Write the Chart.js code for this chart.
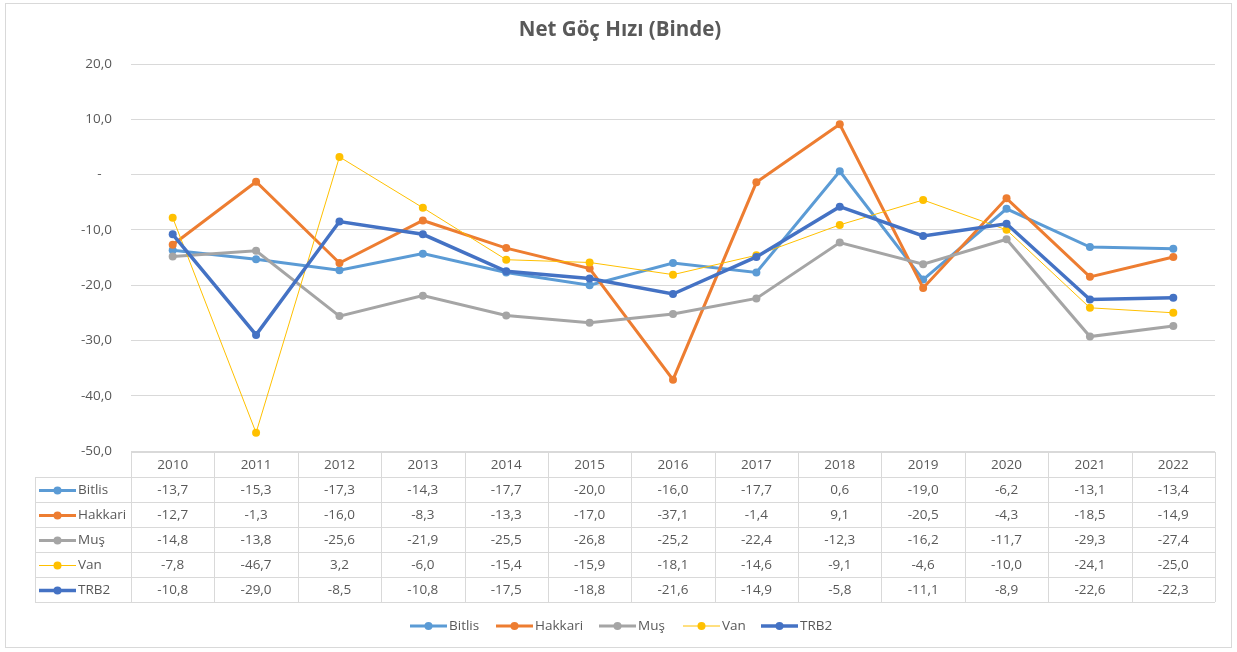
<!DOCTYPE html>
<html><head><meta charset="utf-8">
<script src="https://cdn.jsdelivr.net/npm/chart.js@4/dist/chart.umd.min.js"></script>
<style>html,body{margin:0;padding:0;background:#fff;}#wrap{width:1237px;height:652px;position:relative;}</style>
</head><body><div id="wrap"><canvas id="c" width="1237" height="652"></canvas></div>
<script>
const title = 'Net Göç Hızı (Binde)';
const years = ['2010','2011','2012','2013','2014','2015','2016','2017','2018','2019','2020','2021','2022'];
const seriesNames = ['Bitlis','Hakkari','Muş','Van','TRB2'];
const bitlis  = [-13.7,-15.3,-17.3,-14.3,-17.7,-20.0,-16.0,-17.7,0.6,-19.0,-6.2,-13.1,-13.4];
const hakkari = [-12.7,-1.3,-16.0,-8.3,-13.3,-17.0,-37.1,-1.4,9.1,-20.5,-4.3,-18.5,-14.9];
const mus     = [-14.8,-13.8,-25.6,-21.9,-25.5,-26.8,-25.2,-22.4,-12.3,-16.2,-11.7,-29.3,-27.4];
const van     = [-7.8,-46.7,3.2,-6.0,-15.4,-15.9,-18.1,-14.6,-9.1,-4.6,-10.0,-24.1,-25.0];
const trb2    = [-10.8,-29.0,-8.5,-10.8,-17.5,-18.8,-21.6,-14.9,-5.8,-11.1,-8.9,-22.6,-22.3];
const yMin = -50, yMax = 20, yStep = 10;

const colors = ['#5B9BD5','#ED7D31','#A5A5A5','#FFC000','#4472C4'];
const widths = [3,3,3,1,3.5];
const allData = [bitlis,hakkari,mus,van,trb2];
const FONT = '"Open Sans", sans-serif';
const TXT = '#595959';

function fmt(v){ return v.toFixed(1).replace('.', ','); }

const datasets = allData.map((d,i)=>({
  label: seriesNames[i], data: d,
  borderColor: colors[i], backgroundColor: colors[i],
  pointBackgroundColor: colors[i], pointBorderColor: colors[i],
  borderWidth: widths[i], pointRadius: 4, pointBorderWidth: 0, pointHoverRadius: 4,
  tension: 0, order: 5 - i
}));

const extras = {
  id: 'extras',
  afterDraw(chart){
    const ctx = chart.ctx;
    const xs = chart.scales.x;
    const area = chart.chartArea;
    ctx.save();
    ctx.strokeStyle = '#d9d9d9'; ctx.lineWidth = 1;
    ctx.strokeRect(5.5, 3.5, 1226, 644);
    ctx.fillStyle = TXT; ctx.font = 'bold 20.5px ' + FONT;
    ctx.textAlign = 'center'; ctx.textBaseline = 'middle';
    ctx.fillText(title, 620, 30);
    const n = years.length;
    const cw = (area.right - area.left) / n;
    const tTop = area.bottom + 1, hdrBot = 477, rowH = 25;
    const keyLeft = 35;
    const tBot = hdrBot + rowH * seriesNames.length;
    ctx.strokeStyle = '#d9d9d9'; ctx.lineWidth = 1;
    ctx.beginPath();
    ctx.moveTo(area.left, Math.round(tTop)+0.5); ctx.lineTo(area.right, Math.round(tTop)+0.5);
    for (let r = 0; r <= seriesNames.length; r++) {
      const y = hdrBot + r*rowH + 0.5;
      ctx.moveTo(keyLeft, y); ctx.lineTo(area.right, y);
    }
    for (let k = 0; k <= n; k++) {
      const x = Math.round(area.left + k*cw) + 0.5;
      ctx.moveTo(x, Math.round(tTop)); ctx.lineTo(x, tBot);
    }
    ctx.moveTo(keyLeft + 0.5, hdrBot); ctx.lineTo(keyLeft + 0.5, tBot);
    ctx.stroke();
    ctx.font = '13.5px ' + FONT; ctx.fillStyle = TXT;
    ctx.textAlign = 'center'; ctx.textBaseline = 'middle';
    years.forEach((y,k)=>{ ctx.fillText(y, xs.getPixelForValue(k), (tTop + hdrBot)/2 + 1); });
    allData.forEach((d,i)=>{
      const cy = hdrBot + i*rowH + rowH/2 + 1;
      ctx.textAlign = 'center';
      d.forEach((v,k)=>{ ctx.fillText(fmt(v), xs.getPixelForValue(k), cy); });
      drawKey(ctx, 39, 76, cy, i);
      ctx.textAlign = 'left'; ctx.fillStyle = TXT;
      ctx.fillText(seriesNames[i], 78, cy);
    });
    const legendX = [410, 496, 599, 683, 761];
    const ly = 626;
    seriesNames.forEach((s,i)=>{
      drawKey(ctx, legendX[i], legendX[i] + 37, ly, i);
      ctx.textAlign = 'left'; ctx.fillStyle = TXT;
      ctx.fillText(s, legendX[i] + 39, ly);
    });
    ctx.restore();
  }
};
function drawKey(ctx, x1, x2, y, i){
  ctx.save();
  ctx.strokeStyle = colors[i]; ctx.lineWidth = widths[i];
  ctx.beginPath(); ctx.moveTo(x1, y); ctx.lineTo(x2, y); ctx.stroke();
  ctx.fillStyle = colors[i];
  ctx.beginPath(); ctx.arc((x1+x2)/2, y, 4, 0, Math.PI*2); ctx.fill();
  ctx.restore();
}

new Chart(document.getElementById('c'), {
  type: 'line',
  data: { labels: years, datasets },
  options: {
    responsive: false, animation: false, devicePixelRatio: 1,
    layout: { padding: { left: 0, right: 22, top: 64, bottom: 201 } },
    plugins: { legend: { display: false }, tooltip: { enabled: false }, title: { display: false } },
    scales: {
      x: { display: false, offset: true },
      y: {
        min: yMin, max: yMax,
        afterFit(s){ s.width = 131; },
        border: { display: false },
        grid: { color: '#d9d9d9', lineWidth: 1, drawTicks: false },
        ticks: {
          stepSize: yStep, padding: 19, color: TXT, font: { family: FONT, size: 13.5 },
          callback: v => v === 0 ? '-   ' : fmt(v)
        }
      }
    }
  },
  plugins: [extras]
});
</script></body></html>
